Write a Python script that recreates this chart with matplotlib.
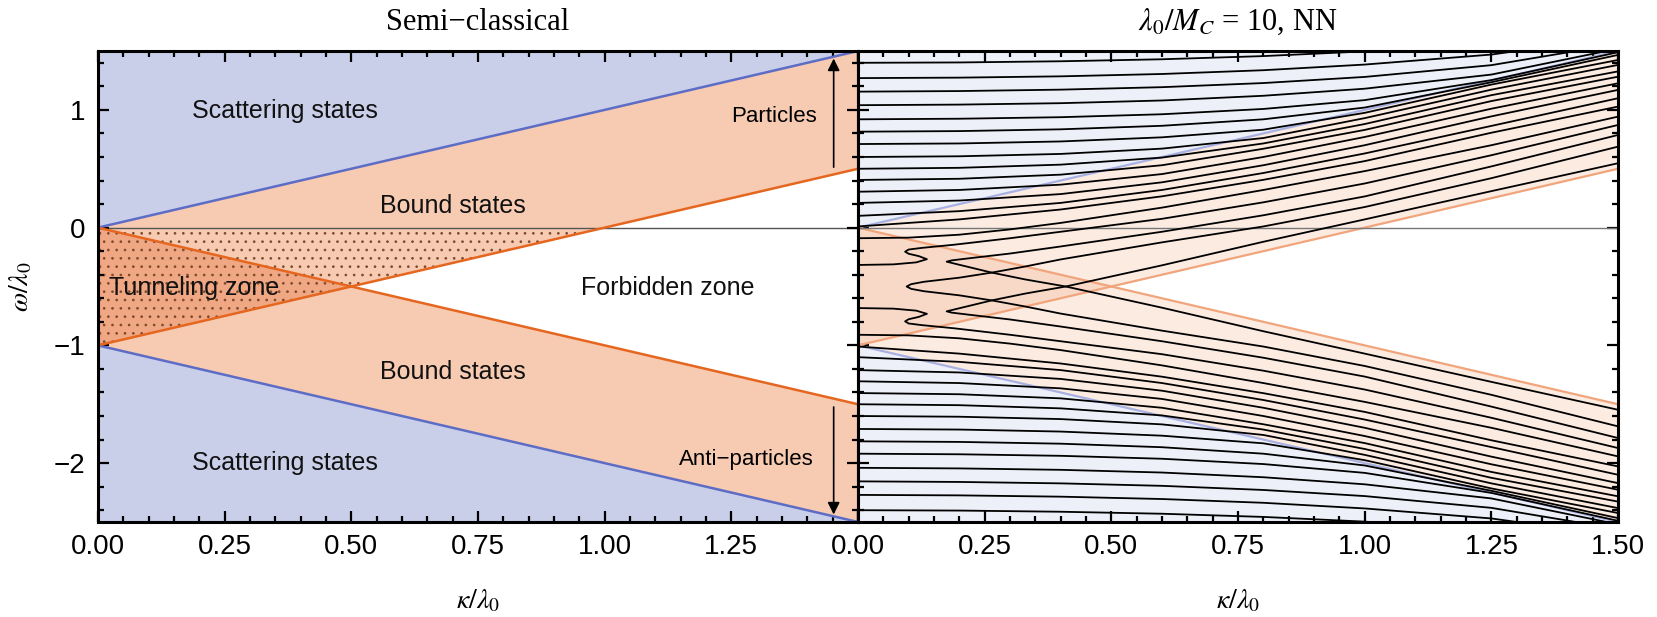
import numpy as np
import matplotlib
matplotlib.use("Agg")
import matplotlib.pyplot as plt
from matplotlib.ticker import MultipleLocator

plt.rcParams['font.family'] = ['Liberation Sans', 'DejaVu Sans']
plt.rcParams['mathtext.fontset'] = 'stix'

# semi-classical boundaries (kappa/lambda0 -> omega/lambda0)
sc_kappa = [0.0, 1.5]
sc_scatter_up = [0.0, 1.5]
sc_bound_up = [-1.0, 0.5]
sc_bound_lo = [0.0, -1.5]
sc_scatter_lo = [-1.0, -2.5]

# NN spectrum
kappa_grid = [0.0, 0.2, 0.4, 0.6, 0.8, 1.0, 1.25, 1.5]
upper_family = [
    [1.40, 1.403, 1.413, 1.43, 1.457, 1.497, 1.57, 1.70],
    [1.27, 1.274, 1.285, 1.305, 1.337, 1.385, 1.47, 1.62],
    [1.155, 1.16, 1.172, 1.193, 1.228, 1.28, 1.38, 1.56],
    [1.04, 1.045, 1.057, 1.08, 1.12, 1.18, 1.30, 1.52],
    [0.92, 0.925, 0.938, 0.963, 1.008, 1.083, 1.253, 1.49],
    [0.815, 0.82, 0.835, 0.865, 0.92, 1.02, 1.235, 1.467],
    [0.71, 0.715, 0.732, 0.767, 0.832, 0.975, 1.215, 1.424],
    [0.60, 0.606, 0.626, 0.671, 0.761, 0.93, 1.172, 1.382],
    [0.50, 0.508, 0.535, 0.595, 0.715, 0.88, 1.125, 1.327],
    [0.405, 0.415, 0.45, 0.53, 0.67, 0.83, 1.075, 1.282],
    [0.305, 0.32, 0.365, 0.455, 0.60, 0.77, 1.01, 1.226],
    [0.21, 0.23, 0.285, 0.385, 0.53, 0.70, 0.945, 1.17],
    [0.10, 0.14, 0.21, 0.32, 0.464, 0.63, 0.864, 1.099],
    [0.01, 0.07, 0.154, 0.266, 0.406, 0.565, 0.806, 1.028],
]
lower_family = [
    [-2.40, -2.403, -2.413, -2.43, -2.457, -2.497, -2.57, -2.70],
    [-2.27, -2.274, -2.285, -2.305, -2.337, -2.385, -2.47, -2.62],
    [-2.155, -2.16, -2.172, -2.193, -2.228, -2.28, -2.38, -2.56],
    [-2.04, -2.045, -2.057, -2.08, -2.12, -2.18, -2.30, -2.52],
    [-1.92, -1.925, -1.938, -1.963, -2.008, -2.083, -2.253, -2.49],
    [-1.815, -1.82, -1.835, -1.865, -1.92, -2.02, -2.235, -2.467],
    [-1.71, -1.715, -1.732, -1.767, -1.832, -1.975, -2.215, -2.424],
    [-1.60, -1.606, -1.626, -1.671, -1.761, -1.93, -2.172, -2.382],
    [-1.50, -1.508, -1.535, -1.595, -1.715, -1.88, -2.125, -2.327],
    [-1.405, -1.415, -1.45, -1.53, -1.67, -1.83, -2.075, -2.282],
    [-1.305, -1.32, -1.365, -1.455, -1.60, -1.77, -2.01, -2.226],
    [-1.21, -1.23, -1.285, -1.385, -1.53, -1.70, -1.945, -2.17],
    [-1.10, -1.14, -1.21, -1.32, -1.464, -1.63, -1.864, -2.099],
    [-1.01, -1.07, -1.154, -1.266, -1.406, -1.565, -1.806, -2.028],
]

# curves through the tunneling zone
r1_k = [0.0, 0.1, 0.2, 0.3, 0.4, 0.6, 0.8, 1.0, 1.25, 1.5]
r1_w = [-0.09, -0.085, -0.06, -0.015, 0.04, 0.17, 0.32, 0.48, 0.70, 0.943]
f1_k = [0.0, 0.1, 0.2, 0.3, 0.4, 0.6, 0.8, 1.0, 1.25, 1.5]
f1_w = [-0.91, -0.915, -0.94, -0.985, -1.04, -1.17, -1.32, -1.48, -1.70, -1.943]

r2_k = [0.0, 0.07, 0.115, 0.136, 0.12, 0.1, 0.093, 0.1, 0.126, 0.19, 0.3, 0.4, 0.6, 0.8, 1.0, 1.25, 1.5]
r2_w = [-0.317, -0.312, -0.295, -0.268, -0.242, -0.222, -0.204, -0.186, -0.172, -0.145, -0.09,
        -0.035, 0.075, 0.215, 0.375, 0.615, 0.872]
f2_k = [0.0, 0.07, 0.115, 0.136, 0.12, 0.1, 0.093, 0.1, 0.126, 0.19, 0.3, 0.4, 0.6, 0.8, 1.0, 1.25, 1.5]
f2_w = [-0.683, -0.688, -0.705, -0.732, -0.758, -0.778, -0.796, -0.814, -0.828, -0.855, -0.91,
        -0.965, -1.075, -1.215, -1.375, -1.615, -1.872]

# turning point near (0.175, -0.29): falling arm + rising arm
t3_k = [1.5, 1.25, 1.0, 0.8, 0.6, 0.41, 0.33, 0.264, 0.19, 0.175, 0.185, 0.22, 0.3, 0.4, 0.6, 0.8, 1.0, 1.25, 1.5]
t3_w = [-1.547, -1.31, -1.07, -0.88, -0.68, -0.5, -0.44, -0.382, -0.305, -0.289, -0.278, -0.26,
        -0.22, -0.16, -0.035, 0.105, 0.265, 0.52, 0.787]
# turning point on the symmetry axis
t4_k = [1.5, 1.25, 1.0, 0.8, 0.6, 0.4, 0.33, 0.264, 0.2, 0.13, 0.105, 0.096,
        0.105, 0.13, 0.2, 0.264, 0.33, 0.4, 0.6, 0.8, 1.0, 1.25, 1.5]
t4_w = [-1.688, -1.42, -1.175, -1.01, -0.875, -0.73, -0.67, -0.618, -0.575, -0.54, -0.52, -0.5,
        -0.48, -0.46, -0.425, -0.382, -0.33, -0.27, -0.125, 0.01, 0.175, 0.42, 0.688]
# turning point near (0.175, -0.71)
t5_k = [1.5, 1.25, 1.0, 0.8, 0.6, 0.4, 0.3, 0.22, 0.185, 0.175, 0.19, 0.264, 0.33, 0.41, 0.6, 0.8, 1.0, 1.25, 1.5]
t5_w = [-1.787, -1.52, -1.265, -1.105, -0.965, -0.84, -0.78, -0.74, -0.722, -0.711, -0.695,
        -0.618, -0.56, -0.5, -0.32, -0.12, 0.07, 0.31, 0.547]

tunnel_curves = [(r1_k, r1_w), (f1_k, f1_w), (r2_k, r2_w), (f2_k, f2_w),
                 (t3_k, t3_w), (t4_k, t4_w), (t5_k, t5_w)]

x_ticks = [0.0, 0.25, 0.5, 0.75, 1.0, 1.25, 1.5]
y_ticks = [-2, -1, 0, 1]

fig = plt.figure(figsize=(16.57, 6.17), dpi=100)
ax1 = fig.add_axes([0.0591, 0.154, 0.4587, 0.7633])
ax2 = fig.add_axes([0.5178, 0.154, 0.4587, 0.7633])

kk = np.linspace(0, 1.5, 601)
s_up = np.interp(kk, sc_kappa, sc_scatter_up)
b_up = np.interp(kk, sc_kappa, sc_bound_up)
b_lo = np.interp(kk, sc_kappa, sc_bound_lo)
s_lo = np.interp(kk, sc_kappa, sc_scatter_lo)


def draw_zones(ax, c_scat, c_band, c_both, c_blue, c_orange, lw):
    ax.fill_between(kk, s_up, 1.5, color=c_scat, lw=0)
    ax.fill_between(kk, -2.5, s_lo, color=c_scat, lw=0)
    ax.fill_between(kk, b_up, s_up, color=c_band, lw=0)
    ax.fill_between(kk, s_lo, b_lo, color=c_band, lw=0)
    ax.fill_between(kk, b_up, b_lo, where=b_lo >= b_up, interpolate=True, color=c_both, lw=0)
    ax.plot(sc_kappa, sc_scatter_up, color=c_blue, lw=lw)
    ax.plot(sc_kappa, sc_scatter_lo, color=c_blue, lw=lw)
    ax.plot(sc_kappa, sc_bound_up, color=c_orange, lw=lw)
    ax.plot(sc_kappa, sc_bound_lo, color=c_orange, lw=lw)


# left: semi-classical picture
draw_zones(ax1, '#c9cee9', '#f7cab2', '#f0a783', '#5d6dc6', '#e5661f', 1.8)
plt.rcParams['hatch.linewidth'] = 0.7
ax1.fill_between(kk, b_up, 0, where=b_up <= 0, interpolate=True, facecolor='none',
                 edgecolor='#7d4a2e', hatch='..', lw=0)
ax1.axhline(0, color='#555555', lw=1.0, zorder=1.5)

txt = dict(fontsize=18, ha='center', va='center', color='#111111')
ax1.text(0.37, 0.99, 'Scattering states', **txt)
ax1.text(0.70, 0.18, 'Bound states', **txt)
ax1.text(0.19, -0.51, 'Tunneling zone', **txt)
ax1.text(1.125, -0.51, 'Forbidden zone', **txt)
ax1.text(0.70, -1.23, 'Bound states', **txt)
ax1.text(0.37, -2.0, 'Scattering states', **txt)
ax1.text(1.335, 0.94, 'Particles', fontsize=16, ha='center', va='center')
ax1.text(1.28, -1.97, 'Anti\u2212particles', fontsize=16, ha='center', va='center')
arr = dict(arrowstyle='-|>', color='k', lw=1.2, mutation_scale=18)
ax1.annotate('', xy=(1.452, 1.46), xytext=(1.452, 0.49), arrowprops=arr)
ax1.annotate('', xy=(1.452, -2.46), xytext=(1.452, -1.5), arrowprops=arr)

# right: NN spectrum on top of faded zones
draw_zones(ax2, '#edf0f8', '#fcebe1', '#f8d9c7', '#a8b1e2', '#f0a57c', 1.6)
ax2.axhline(0, color='#777777', lw=1.0)
for w in upper_family + lower_family:
    ax2.plot(kappa_grid, w, color='k', lw=1.3)
for k, w in tunnel_curves:
    ax2.plot(k, w, color='k', lw=1.3)

for ax in (ax1, ax2):
    ax.set_xlim(0, 1.5)
    ax.set_ylim(-2.5, 1.5)
    ax.set_xticks(x_ticks)
    ax.set_yticks(y_ticks)
    ax.xaxis.set_minor_locator(MultipleLocator(0.05))
    ax.yaxis.set_minor_locator(MultipleLocator(0.2))
    ax.tick_params(which='both', direction='in', top=True, right=True, width=1.6,
                   labelsize=20, pad=9)
    ax.tick_params(which='major', length=8)
    ax.tick_params(which='minor', length=4.5)
    for sp in ax.spines.values():
        sp.set_linewidth(2.2)
    ax.set_xlabel(r'$\kappa/\lambda_0$', fontsize=20, labelpad=20)

ax1.set_xticklabels(['0.00', '0.25', '0.50', '0.75', '1.00', '1.25', ''])
ax1.set_yticklabels(['\u22122', '\u22121', '0', '1'])
ax2.set_xticklabels(['0.00', '0.25', '0.50', '0.75', '1.00', '1.25', '1.50'])
ax2.tick_params(labelleft=False)
ax1.set_ylabel(r'$\omega/\lambda_0$', fontsize=20, labelpad=14)

ax1.set_title('Semi\u2212classical', family=['Liberation Serif'], fontsize=22, pad=15)
ax2.set_title(r'$\lambda_0/M_C$ = 10, NN', family=['Liberation Serif'], fontsize=22, pad=15)

fig.savefig('out.png', dpi=100)
